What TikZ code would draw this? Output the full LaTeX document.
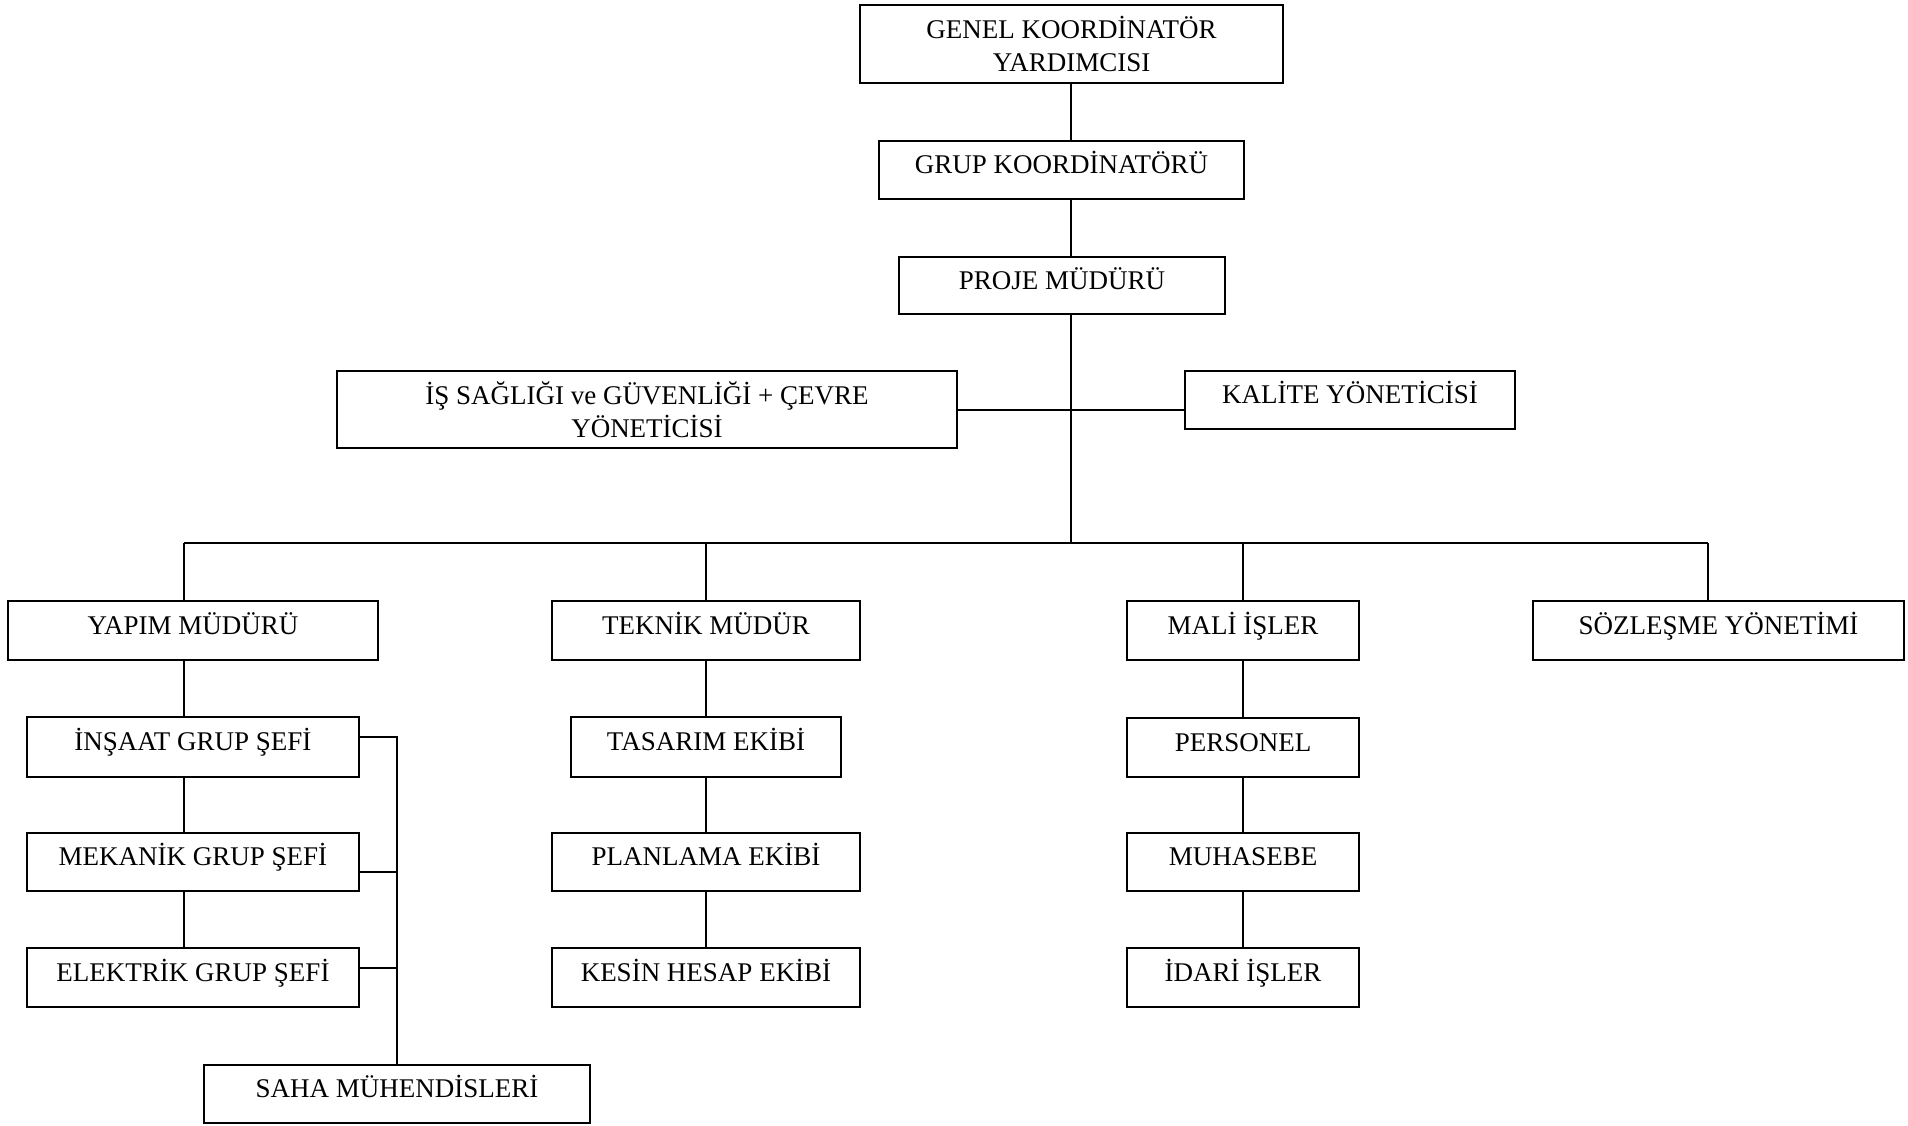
\documentclass[tikz,border=0pt]{standalone}
\usepackage{fontspec}
\setmainfont{Liberation Serif}
\begin{document}
\begin{tikzpicture}[x=1pt,y=-1pt,
  box/.style={draw, line width=2pt, inner sep=0pt, minimum height=58pt,
    font=\fontsize{27}{33}\selectfont, text height=18.5pt, text depth=11.5pt},
  twoline/.style={draw, line width=2pt, inner sep=0pt, align=center,
    font=\fontsize{27}{32.5}\selectfont},
  link/.style={line width=1.7pt}]
\useasboundingbox (0,0) rectangle (1908,1125);

% top of the hierarchy
\node[twoline, minimum width=423pt, minimum height=78pt] (gk) at (1071.5,44)
  {GENEL KOORDİNATÖR\\YARDIMCISI};
\node[box, minimum width=365pt] (grup) at (1061.5,170) {GRUP KOORDİNATÖRÜ};
\node[box, minimum width=326pt, minimum height=57pt] (proje) at (1062,285.5) {PROJE MÜDÜRÜ};

% staff units
\node[twoline, minimum width=620pt, minimum height=77pt] (isg) at (647,409.5)
  {İŞ SAĞLIĞI ve GÜVENLİĞİ + ÇEVRE\\YÖNETİCİSİ};
\node[box, minimum width=330pt] (kalite) at (1350,400) {KALİTE YÖNETİCİSİ};

% departments
\node[box, minimum width=370pt, minimum height=59pt] (yapim) at (193,630.5) {YAPIM MÜDÜRÜ};
\node[box, minimum width=308pt, minimum height=59pt] (teknik) at (706,630.5) {TEKNİK MÜDÜR};
\node[box, minimum width=232pt, minimum height=59pt] (mali) at (1243,630.5) {MALİ İŞLER};
\node[box, minimum width=371pt, minimum height=59pt] (sozlesme) at (1718.5,630.5) {SÖZLEŞME YÖNETİMİ};

% construction branch
\node[box, minimum width=332pt, minimum height=60pt] (insaat) at (193,747) {İNŞAAT GRUP ŞEFİ};
\node[box, minimum width=332pt] (mekanik) at (193,862) {MEKANİK GRUP ŞEFİ};
\node[box, minimum width=332pt, minimum height=59pt] (elektrik) at (193,977.5) {ELEKTRİK GRUP ŞEFİ};
\node[box, minimum width=386pt] (saha) at (397,1094) {SAHA MÜHENDİSLERİ};

% technical branch
\node[box, minimum width=270pt, minimum height=60pt] (tasarim) at (706,747) {TASARIM EKİBİ};
\node[box, minimum width=308pt] (planlama) at (706,862) {PLANLAMA EKİBİ};
\node[box, minimum width=308pt, minimum height=59pt] (kesin) at (706,977.5) {KESİN HESAP EKİBİ};

% finance branch
\node[box, minimum width=232pt, minimum height=59pt] (personel) at (1243,747.5) {PERSONEL};
\node[box, minimum width=232pt] (muhasebe) at (1243,862) {MUHASEBE};
\node[box, minimum width=232pt, minimum height=59pt] (idari) at (1243,977.5) {İDARİ İŞLER};

% junction points
\coordinate (hub) at (1071,543);
\coordinate (qa) at (1071,410);
\coordinate (ya) at (184,543);
\coordinate (so) at (1708,543);
\coordinate (si) at (397,737);
\coordinate (sm) at (397,872);
\coordinate (se) at (397,968);

% main spine
\draw[link] (gk.south -| hub) -- (grup.north -| hub);
\draw[link] (grup.south -| hub) -- (proje.north -| hub);
\draw[link] (proje.south -| hub) -- (hub);
\draw[link] (isg.east |- qa) -- (kalite.west |- qa);

% department bus
\draw[link] (ya) -- (so);
\draw[link] (ya) -- (yapim.north -| ya);
\draw[link] (teknik.north |- hub) -- (teknik.north);
\draw[link] (mali.north |- hub) -- (mali.north);
\draw[link] (so) -- (sozlesme.north -| so);

% construction chain
\draw[link] (yapim.south -| ya) -- (insaat.north -| ya);
\draw[link] (insaat.south -| ya) -- (mekanik.north -| ya);
\draw[link] (mekanik.south -| ya) -- (elektrik.north -| ya);
\draw[link] (insaat.east |- si) -- (si) -- (saha.north);
\draw[link] (mekanik.east |- sm) -- (sm);
\draw[link] (elektrik.east |- se) -- (se);

% technical chain
\draw[link] (teknik.south) -- (tasarim.north);
\draw[link] (tasarim.south) -- (planlama.north);
\draw[link] (planlama.south) -- (kesin.north);

% finance chain
\draw[link] (mali.south) -- (personel.north);
\draw[link] (personel.south) -- (muhasebe.north);
\draw[link] (muhasebe.south) -- (idari.north);
\end{tikzpicture}
\end{document}
